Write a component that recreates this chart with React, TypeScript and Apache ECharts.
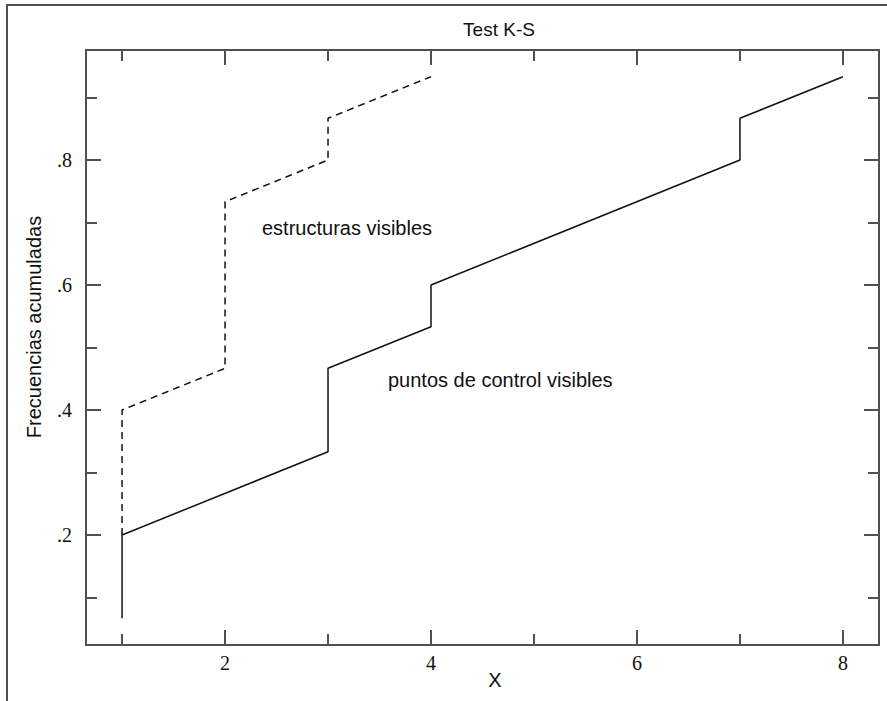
import React, { useEffect, useRef } from "react";
import * as echarts from "echarts";

// Data (cumulative frequencies, step-like K-S curves)
const controlX = [1, 1, 3, 3, 4, 4, 7, 7, 8];
const controlY = [0.0667, 0.2, 0.3333, 0.4667, 0.5333, 0.6, 0.8, 0.8667, 0.9333];
const structX = [1, 1, 2, 2, 3, 3, 4];
const structY = [0.2, 0.4, 0.4667, 0.7333, 0.8, 0.8667, 0.9333];

const xMajorTicks = [2, 4, 6, 8];
const xMinorTicks = [1, 3, 5, 7];
const yMajorTicks = [0.2, 0.4, 0.6, 0.8];
const yMinorTicks = [0.1, 0.3, 0.5, 0.7, 0.9];

const titleText = "Test K-S";
const xName = "X";
const yName = "Frecuencias acumuladas";
const labelStruct = "estructuras visibles";
const labelControl = "puntos de control visibles";

const X_MIN = 0.65;
const X_MAX = 8.35;
const Y_MIN = 0.024;
const Y_MAX = 0.976;

const AXIS_COLOR = "#505050";
const INK = "#111111";
const SANS = "'Liberation Sans', Arial, sans-serif";
const SERIF = "'Liberation Serif', 'Times New Roman', serif";

function zip(xs: number[], ys: number[]) {
  return xs.map((x, i) => [x, ys[i]]);
}

export default function App() {
  const ref = useRef<HTMLDivElement>(null);

  useEffect(() => {
    document.body.style.margin = "0";
    if (!ref.current) return;
    const chart = echarts.init(ref.current, undefined, { renderer: "svg" });

    const baseX = (position: string, ticks: number[], len: number, showLine: boolean, showLabel: boolean) => ({
      type: "value",
      position,
      min: X_MIN,
      max: X_MAX,
      axisLine: { show: showLine, lineStyle: { color: AXIS_COLOR, width: 2 } },
      axisTick: {
        show: true,
        inside: true,
        length: len,
        customValues: ticks,
        lineStyle: { color: AXIS_COLOR, width: 2 },
      },
      axisLabel: {
        show: showLabel,
        customValues: xMajorTicks,
        margin: 8,
        color: INK,
        fontFamily: SERIF,
        fontSize: 20,
      },
      splitLine: { show: false },
    });

    const baseY = (position: string, ticks: number[], len: number, showLine: boolean, showLabel: boolean) => ({
      type: "value",
      position,
      min: Y_MIN,
      max: Y_MAX,
      axisLine: { show: showLine, lineStyle: { color: AXIS_COLOR, width: 2 } },
      axisTick: {
        show: true,
        inside: true,
        length: len,
        customValues: ticks,
        lineStyle: { color: AXIS_COLOR, width: 2 },
      },
      axisLabel: {
        show: showLabel,
        customValues: yMajorTicks,
        margin: 14,
        color: INK,
        fontFamily: SERIF,
        fontSize: 20,
        formatter: (v: number) => String(Math.round(v * 10) / 10).replace(/^0/, ""),
      },
      splitLine: { show: false },
    });

    chart.setOption({
      animation: false,
      backgroundColor: "#ffffff",
      grid: { left: 86, top: 50, right: 8, bottom: 56, containLabel: false },
      xAxis: [
        baseX("bottom", xMajorTicks, 15, true, true),
        baseX("bottom", xMinorTicks, 11, false, false),
        baseX("top", xMajorTicks, 15, true, false),
        baseX("top", xMinorTicks, 11, false, false),
      ],
      yAxis: [
        baseY("left", yMajorTicks, 15, true, true),
        baseY("left", yMinorTicks, 11, false, false),
        baseY("right", yMajorTicks, 15, true, false),
        baseY("right", yMinorTicks, 11, false, false),
      ],
      series: [
        {
          name: labelControl,
          type: "line",
          xAxisIndex: 0,
          yAxisIndex: 0,
          data: zip(controlX, controlY),
          showSymbol: false,
          symbol: "none",
          lineStyle: { color: INK, width: 1.5, type: "solid" },
        },
        {
          name: labelStruct,
          type: "line",
          xAxisIndex: 0,
          yAxisIndex: 0,
          data: zip(structX, structY),
          showSymbol: false,
          symbol: "none",
          lineStyle: { color: INK, width: 1.5, type: [7, 5] },
        },
      ],
      graphic: [
        {
          type: "rect",
          shape: { x: 7, y: 5, width: 920, height: 740 },
          style: { fill: "none", stroke: AXIS_COLOR, lineWidth: 2 },
          silent: true,
        },
        {
          type: "text",
          x: 499,
          y: 29,
          style: { text: titleText, fill: INK, font: `19px ${SANS}`, align: "center", verticalAlign: "middle" },
        },
        {
          type: "text",
          x: 495,
          y: 680,
          style: { text: xName, fill: INK, font: `20px ${SANS}`, align: "center", verticalAlign: "middle" },
        },
        {
          type: "text",
          x: 34,
          y: 327,
          rotation: Math.PI / 2,
          style: { text: yName, fill: INK, font: `20px ${SANS}`, align: "center", verticalAlign: "middle" },
        },
        {
          type: "text",
          x: 262,
          y: 228,
          style: { text: labelStruct, fill: INK, font: `20px ${SANS}`, align: "left", verticalAlign: "middle" },
        },
        {
          type: "text",
          x: 388,
          y: 380,
          style: { text: labelControl, fill: INK, font: `20px ${SANS}`, align: "left", verticalAlign: "middle" },
        },
      ],
    });

    return () => chart.dispose();
  }, []);

  return <div ref={ref} style={{ width: 887, height: 701 }} />;
}
